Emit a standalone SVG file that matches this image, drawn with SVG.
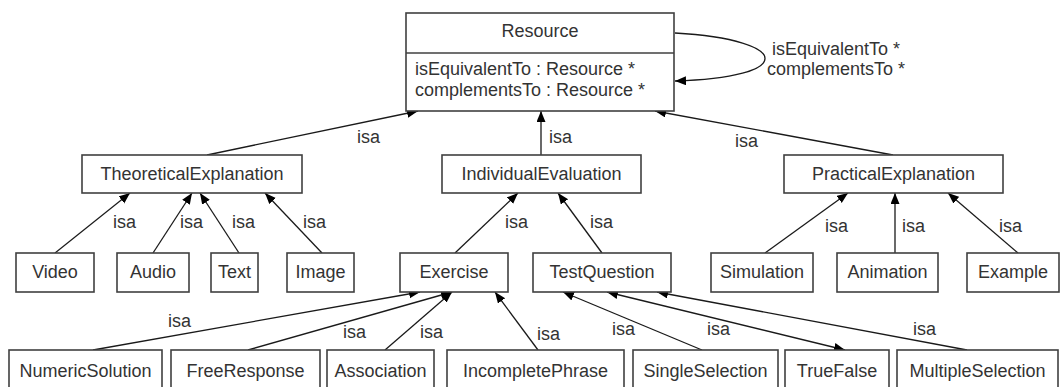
<svg xmlns="http://www.w3.org/2000/svg" width="1063" height="387" viewBox="0 0 1063 387">
<style>
.box{fill:#fff;stroke:#404040;stroke-width:1.6}
.t{font-family:"Liberation Sans",Arial,sans-serif;font-size:18px;fill:#333}
.c{text-anchor:middle}
.ln{fill:none;stroke:#1a1a1a;stroke-width:1.3}
.ar{marker-end:url(#ah)}
</style>
<defs>
<marker id="ah" markerUnits="userSpaceOnUse" markerWidth="12" markerHeight="10" refX="11" refY="4.5" orient="auto-start-reverse" viewBox="0 0 12 10">
<path d="M0,0 L11,4.5 L0,9 z" fill="#000"/>
</marker>
</defs>
<rect width="1063" height="387" fill="#fff"/>
<g id="connectors">
<path class="ln ar" d="M207,155 L418,111"/>
<path class="ln ar" d="M541,155 L541,111"/>
<path class="ln ar" d="M893,155 L655,111"/>
<path class="ln ar" d="M675,33 C795,40 795,78 675,81"/>
<path class="ln ar" d="M55,253 L130,193"/>
<path class="ln ar" d="M153,253 L192,193"/>
<path class="ln ar" d="M239,253 L200,193"/>
<path class="ln ar" d="M322,253 L265,193"/>
<path class="ln ar" d="M455,253 L518,193"/>
<path class="ln ar" d="M602,253 L558,193"/>
<path class="ln ar" d="M765,253 L848,193"/>
<path class="ln ar" d="M895,253 L895,193"/>
<path class="ln ar" d="M1018,253 L948,193"/>
<path class="ln ar" d="M93,350 L420,292"/>
<path class="ln ar" d="M248,350 L452,292"/>
<path class="ln ar" d="M385,350 L452,292"/>
<path class="ln ar" d="M538,350 L495,292"/>
<path class="ln ar" d="M702,350 L563,292"/>
<path class="ln ar" d="M845,350 L607,292" marker-start="url(#ah)"/>
<path class="ln ar" d="M967,350 L657,292"/>
<g class="t">
<text x="357" y="143">isa</text>
<text x="549" y="143">isa</text>
<text x="735" y="147">isa</text>
<text class="c" x="836" y="55">isEquivalentTo *</text>
<text class="c" x="836" y="75">complementsTo *</text>
<text x="113" y="228">isa</text>
<text x="180" y="228">isa</text>
<text x="232" y="228">isa</text>
<text x="303" y="228">isa</text>
<text x="505" y="228">isa</text>
<text x="590" y="228">isa</text>
<text x="825" y="232">isa</text>
<text x="902" y="232">isa</text>
<text x="999" y="232">isa</text>
<text x="168" y="327">isa</text>
<text x="343" y="338">isa</text>
<text x="420" y="338">isa</text>
<text x="537" y="340">isa</text>
<text x="612" y="335">isa</text>
<text x="707" y="335">isa</text>
<text x="913" y="335">isa</text>
</g>
</g>
<g id="Resource">
<rect class="box" x="406" y="13" width="268" height="98"/>
<line x1="406" y1="53" x2="674" y2="53" stroke="#404040" stroke-width="1.6"/>
<text class="t c" x="540" y="37">Resource</text>
<text class="t" x="415" y="75">isEquivalentTo : Resource *</text>
<text class="t" x="415" y="96">complementsTo : Resource *</text>
</g>
<g id="TheoreticalExplanation"><rect class="box" x="82" y="155" width="220" height="38"/><text class="t c" x="192" y="180">TheoreticalExplanation</text></g>
<g id="IndividualEvaluation"><rect class="box" x="442" y="155" width="199" height="38"/><text class="t c" x="541.5" y="180">IndividualEvaluation</text></g>
<g id="PracticalExplanation"><rect class="box" x="784" y="155" width="219" height="38"/><text class="t c" x="893.5" y="180">PracticalExplanation</text></g>
<g id="Video"><rect class="box" x="16" y="253" width="78" height="39"/><text class="t c" x="55" y="278">Video</text></g>
<g id="Audio"><rect class="box" x="117" y="253" width="72" height="39"/><text class="t c" x="153" y="278">Audio</text></g>
<g id="Text"><rect class="box" x="211" y="253" width="47" height="39"/><text class="t c" x="234.5" y="278">Text</text></g>
<g id="Image"><rect class="box" x="287" y="253" width="67" height="39"/><text class="t c" x="320.5" y="278">Image</text></g>
<g id="Exercise"><rect class="box" x="400" y="253" width="108" height="39"/><text class="t c" x="454" y="278">Exercise</text></g>
<g id="TestQuestion"><rect class="box" x="533" y="253" width="138" height="39"/><text class="t c" x="602" y="278">TestQuestion</text></g>
<g id="Simulation"><rect class="box" x="711" y="253" width="102" height="39"/><text class="t c" x="762" y="278">Simulation</text></g>
<g id="Animation"><rect class="box" x="837" y="253" width="101" height="39"/><text class="t c" x="887.5" y="278">Animation</text></g>
<g id="Example"><rect class="box" x="967" y="253" width="92" height="39"/><text class="t c" x="1013" y="278">Example</text></g>
<g id="NumericSolution"><rect class="box" x="9" y="350" width="153" height="38"/><text class="t c" x="85.5" y="377">NumericSolution</text></g>
<g id="FreeResponse"><rect class="box" x="171" y="350" width="149" height="38"/><text class="t c" x="245.5" y="377">FreeResponse</text></g>
<g id="Association"><rect class="box" x="327" y="350" width="107" height="38"/><text class="t c" x="380.5" y="377">Association</text></g>
<g id="IncompletePhrase"><rect class="box" x="447" y="350" width="177" height="38"/><text class="t c" x="535.5" y="377">IncompletePhrase</text></g>
<g id="SingleSelection"><rect class="box" x="633" y="350" width="145" height="38"/><text class="t c" x="705.5" y="377">SingleSelection</text></g>
<g id="TrueFalse"><rect class="box" x="785" y="350" width="104" height="38"/><text class="t c" x="837" y="377">TrueFalse</text></g>
<g id="MultipleSelection"><rect class="box" x="897" y="350" width="161" height="38"/><text class="t c" x="977.5" y="377">MultipleSelection</text></g>
</svg>
